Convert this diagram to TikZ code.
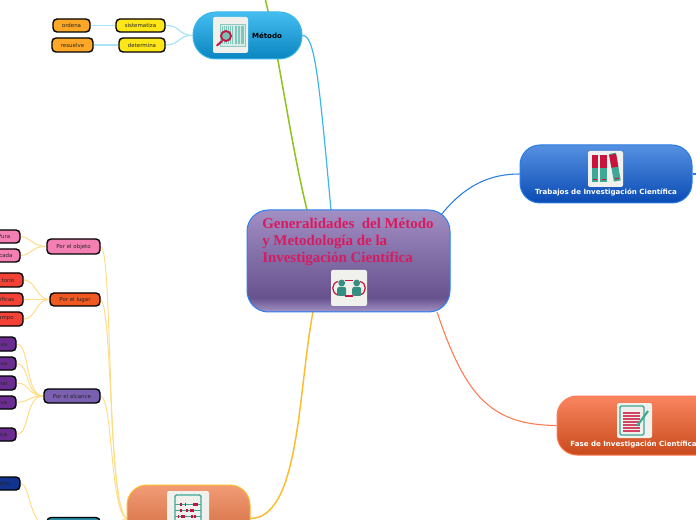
\documentclass[tikz,border=0pt]{standalone}
\usepackage{fontspec}
\setmainfont{DejaVu Sans}
\newfontfamily\titlefont{Liberation Serif}
\usetikzlibrary{backgrounds}
\definecolor{cTitle}{HTML}{D81B60}
\definecolor{cTeal}{HTML}{3FA796}
\definecolor{cRed}{HTML}{C8143C}
\definecolor{cIcon}{HTML}{F0F0EC}
\definecolor{cLBlue}{HTML}{A8E4F8}
\definecolor{cLYellow}{HTML}{FFDD88}
\definecolor{cBlueLine}{HTML}{3CB7EA}
\definecolor{cDeep}{HTML}{2A7DE1}
\definecolor{cGreen}{HTML}{8FC31F}
\definecolor{cCoral}{HTML}{FF7A50}
\definecolor{cGold}{HTML}{FDBB2D}
\definecolor{centralb}{HTML}{A394C6}
\definecolor{centralm}{HTML}{67528E}
\definecolor{centralt}{HTML}{A28FC4}
\definecolor{fPink}{HTML}{F47FB2}
\definecolor{fLugar}{HTML}{F05A22}
\definecolor{fRed}{HTML}{F44336}
\definecolor{fAlc}{HTML}{7B5FB0}
\definecolor{fPurple}{HTML}{6B2C91}
\definecolor{fNavy}{HTML}{12348F}
\definecolor{fYellow}{HTML}{FFE619}
\definecolor{fOrange}{HTML}{FFA726}
\definecolor{fTipo}{HTML}{2A8EA8}
\pgfdeclareverticalshading{centralshade}{100bp}{color(0bp)=(centralb);
 color(25bp)=(centralb); color(32bp)=(centralm); color(75bp)=(centralt); color(100bp)=(centralt)}
\tikzset{
 x=0.75pt,y=-0.75pt,
 bigbox/.style={draw,line width=0.75pt,inner sep=0pt},
 leaf/.style={draw=black,line width=1.05pt,rounded corners=3pt,inner sep=0pt},
 cuttext/.style={inner sep=0pt,anchor=east,text=black!85,font=\fontsize{4.1}{5}\selectfont},
 midtext/.style={inner sep=0pt,text=black!85,font=\fontsize{4.1}{5}\selectfont},
 iconbox/.style={fill=cIcon,rounded corners=1.5pt,inner sep=0pt},
 thinblue/.style={cLBlue,line width=0.9pt},
 thinyellow/.style={cLYellow,line width=0.75pt},
 lbl/.style={inner sep=0pt,text=white,font=\bfseries\fontsize{5.3}{6}\selectfont},
}
\newcommand{\boxat}[6]{% name, x1, y1, x2, y2, style
 \node[#6,minimum width={(#4-#2)*0.75pt},minimum height={(#5-#3)*0.75pt}] (#1) at ({(#2+#4)/2},{(#3+#5)/2}) {};}
\begin{document}
\begin{tikzpicture}
\useasboundingbox (0,0) rectangle (696,520);
% main boxes
\boxat{central}{247}{210}{450}{312}{bigbox,draw=cBlueLine!70!blue,rounded corners=16pt,shading=centralshade}
\node[inner sep=0pt,anchor=north west,align=left,text=cTitle,font=\titlefont\bfseries\fontsize{11.2}{12.8}\selectfont] (title) at (262,218) {Generalidades\ \ del Método\\y Metodología de la\\Investigación Científica};
\definecolor{mTop}{HTML}{45BDF0}\definecolor{mBot}{HTML}{0A85C0}
\boxat{metodo}{193}{12}{302}{59}{bigbox,draw=cBlueLine,rounded corners=17pt,top color=mTop,bottom color=mBot}
\node[inner sep=0pt,text=black,font=\bfseries\fontsize{5.3}{6}\selectfont] (metodoT) at (267,35.5) {Método};
\definecolor{tTop}{HTML}{5590E0}\definecolor{tBot}{HTML}{0A4BB5}
\boxat{trabajos}{520}{145}{692}{203}{bigbox,draw=cDeep,rounded corners=15pt,top color=tTop,bottom color=tBot}
\node[lbl] (trabajosT) at (606,192.5) {Trabajos de Investigación Científica};
\definecolor{fTop}{HTML}{F98560}\definecolor{fBot}{HTML}{C94A1B}
\boxat{fase}{557}{396}{720}{455}{bigbox,draw=cCoral,rounded corners=15pt,top color=fTop,bottom color=fBot}
\node[lbl] (faseT) at (633.5,444.5) {Fase de Investigación Científica};
\definecolor{oTop}{HTML}{F29C76}\definecolor{oBot}{HTML}{C85F30}
\boxat{metodos}{127}{485}{250}{552}{bigbox,draw=cGold,rounded corners=15pt,top color=oTop,bottom color=oBot}
% icons
\boxat{iconA}{213}{17}{248}{53}{iconbox}
\draw[cTeal!60,line width=0.6pt,fill=cTeal!22] (220,24) rectangle (245,46);
\foreach \xx/\ww in {222/1,224/1,226/1,228/1,230/1,232/1,235/2,238/2,241/1.5,243/1}
  \fill[cTeal!65] (\xx,26) rectangle ++(\ww,18);
\draw[cRed,line width=1.5pt,line cap=round] (222,41) -- (217,45.5);
\draw[cRed,line width=1.4pt,fill=cTeal!70] (226,36) circle (5);
\boxat{iconB}{331}{270}{367}{306}{iconbox}
\draw[cRed,line width=0.9pt] (338,281.5) .. controls (331,283) and (331,293) .. (338,295);
\draw[cRed,line width=0.9pt] (360,281.5) .. controls (367,283) and (367,293) .. (360,295);
\draw[cRed,line width=0.9pt] (345,280.5) -- (353,280.5);
\draw[cRed,line width=0.9pt] (345,296) -- (353,296);
\foreach \px in {341.7,356.7}{
  \fill[cTeal!85!black] (\px,283) circle (3.4);
  \fill[cTeal!85!black,rounded corners=1.5pt] (\px-4.5,287) rectangle (\px+4.5,296);
}
\boxat{iconC}{588}{151}{623}{187}{iconbox}
\fill[cTeal] (591.7,155) rectangle (598.3,182);
\fill[cRed] (591.7,155.5) rectangle (598.3,168);
\fill[cRed] (593,179) rectangle (597,180);
\fill[cTeal] (600,155) rectangle (607,182);
\fill[cRed] (600,155.5) rectangle (607,168);
\fill[cRed] (601.5,179) rectangle (605.5,180);
\begin{scope}[shift={(609,154)},rotate=10]
 \fill[cTeal] (0,0) rectangle (7,28);
 \fill[cRed] (0,1) rectangle (7,14);
 \fill[cRed] (1.5,25) rectangle (5.5,26);
\end{scope}
\boxat{iconD}{617}{403}{652}{438}{iconbox}
\draw[cTeal,line width=1.1pt,rounded corners=1pt] (620,406) rectangle (644,435);
\foreach \yy in {412,415,418,421,424,427,430}
  \fill[cRed!80] (623,\yy) rectangle (640,\yy+1.7);
\draw[cTeal,line width=1.6pt] (637,426) -- (648,411);
\boxat{iconE}{167}{491}{209}{545}{iconbox}
\draw[cTeal,line width=1.1pt,rounded corners=1pt] (175,495) rectangle (201,540);
\foreach \yy in {504.7,510.7,516.7}
  \draw[cTeal,line width=0.5pt] (175,\yy) -- (201,\yy);
\foreach \xx/\yy/\ww in {179.5/503/2,184.5/503/1,193/503/5,179.5/509/2,186/509/2,189.5/509/4,177.5/515/1.5,181/515/3.5,191/515/2,194/515/1.5}
  \fill[cRed] (\xx,\yy) rectangle ++(\ww,3.4);
% top left
\boxat{sist}{116}{19}{165}{32}{leaf,fill=fYellow}
\node[midtext] (sistT) at (sist) {sistematiza};
\boxat{deter}{119}{38}{165}{52}{leaf,fill=fYellow}
\node[midtext] (deterT) at (deter) {determina};
\boxat{orden}{53}{19}{90}{32}{leaf,fill=fOrange}
\node[midtext] (ordenT) at (orden) {ordena};
\boxat{resu}{52}{38}{93}{52}{leaf,fill=fOrange}
\node[midtext] (resuT) at (resu) {resuelve};
% left column
\boxat{objeto}{47}{239}{100}{254}{leaf,fill=fPink}
\node[midtext] (objetoT) at (objeto) {Por el objeto};
\boxat{lugar}{50}{293}{100}{306}{leaf,fill=fLugar}
\node[midtext] (lugarT) at (lugar) {Por el lugar};
\boxat{alcance}{44}{389}{100}{403}{leaf,fill=fAlc}
\node[midtext] (alcanceT) at (alcance) {Por el alcance};
\boxat{tipo}{47}{517.5}{100}{540}{leaf,fill=fTipo}
\boxat{pura}{-30}{230}{20}{243}{leaf,fill=fPink}
\node[cuttext] (puraT) at (10.5,236.5) {Pura};
\boxat{apli}{-30}{249}{20}{262}{leaf,fill=fPink}
\node[cuttext] (apliT) at (12.8,255.5) {cada};
\boxat{labo}{-30}{273}{23}{287}{leaf,fill=fRed}
\node[cuttext] (laboT) at (14.5,280) {torio};
\boxat{cien}{-30}{293}{23}{306}{leaf,fill=fRed}
\node[cuttext] (cienT) at (14.5,299.5) {ificas};
\boxat{camp}{-30}{312}{23}{326}{leaf,fill=fRed}
\node[cuttext] (campT) at (14,319) {ampo};
\boxat{p1}{-30}{337}{16}{351}{leaf,fill=fPurple}
\node[cuttext] (p1T) at (7.5,344) {iva};
\boxat{p2}{-30}{357}{16}{370}{leaf,fill=fPurple}
\node[cuttext] (p2T) at (7.5,363.5) {iva};
\boxat{p3}{-30}{376}{16}{390}{leaf,fill=fPurple}
\node[cuttext] (p3T) at (7.5,383) {nal};
\boxat{p4}{-30}{396}{16}{409}{leaf,fill=fPurple}
\node[cuttext] (p4T) at (7.5,402.5) {iva};
\boxat{p5}{-30}{428}{16}{441}{leaf,fill=fPurple}
\node[cuttext] (p5T) at (7.5,434.5) {ica};
\boxat{exp}{-30}{477}{20}{490}{leaf,fill=fNavy}
\node[cuttext] (expT) at (10.5,483.5) {ntal};
% connector ends
\coordinate (cTopG) at (307,210);
\coordinate (cTopB) at (331,210);
\coordinate (cR) at (441,215);
\coordinate (cBR) at (437,312);
\coordinate (cB) at (313,312);
\coordinate (gEnd) at (265,-2);
\coordinate (tEnd) at (697,174);
\begin{pgfonlayer}{background}
\draw[cGreen,line width=1.15pt] (cTopG) .. controls (290,140) and (280,60) .. (gEnd);
\draw[cBlueLine,line width=0.9pt] (metodo.east) .. controls (315,35) and (319,80) .. (cTopB);
\draw[cDeep,line width=0.8pt] (cR) .. controls (465,185) and (490,174) .. (trabajos.west);
\draw[cDeep,line width=0.8pt] (trabajos.east) -- (tEnd);
\draw[cCoral,line width=0.8pt] (cBR) .. controls (465,395) and (490,425) .. (fase.west);
\draw[cGold,line width=1.1pt] (cB) .. controls (298,390) and (300,518) .. (metodos.east);
\draw[thinblue] (sist.east) .. controls (180,25) and (178,35) .. (metodo.west);
\draw[thinblue] (deter.east) .. controls (180,45) and (178,35) .. (metodo.west);
\draw[thinblue] (orden.east) -- (sist.west);
\draw[thinblue] (resu.east) -- (deter.west);
\draw[thinyellow] (objeto.east) .. controls (113,250) and (106,505) .. (metodos.west);
\draw[thinyellow] (lugar.east) .. controls (113,310) and (108,505) .. (metodos.west);
\draw[thinyellow] (alcance.east) .. controls (113,400) and (110,510) .. (metodos.west);
\draw[thinyellow] (tipo.east) -- (metodos.west);
\draw[thinyellow] (pura.east) .. controls (32,238) and (32,246) .. (objeto.west);
\draw[thinyellow] (apli.east) .. controls (32,255) and (32,246) .. (objeto.west);
\draw[thinyellow] (labo.east) .. controls (36,280) and (36,299) .. (lugar.west);
\draw[thinyellow] (cien.east) -- (lugar.west);
\draw[thinyellow] (camp.east) .. controls (36,319) and (36,299) .. (lugar.west);
\draw[thinyellow] (p1.east) .. controls (30,344) and (25,396) .. (alcance.west);
\draw[thinyellow] (p2.east) .. controls (30,364) and (25,396) .. (alcance.west);
\draw[thinyellow] (p3.east) .. controls (30,383) and (28,396) .. (alcance.west);
\draw[thinyellow] (p4.east) .. controls (30,402) and (28,396) .. (alcance.west);
\draw[thinyellow] (p5.east) .. controls (30,434) and (25,396) .. (alcance.west);
\draw[thinyellow] (exp.east) .. controls (30,484) and (28,518) .. (tipo.west);
\end{pgfonlayer}
\end{tikzpicture}
\end{document}
